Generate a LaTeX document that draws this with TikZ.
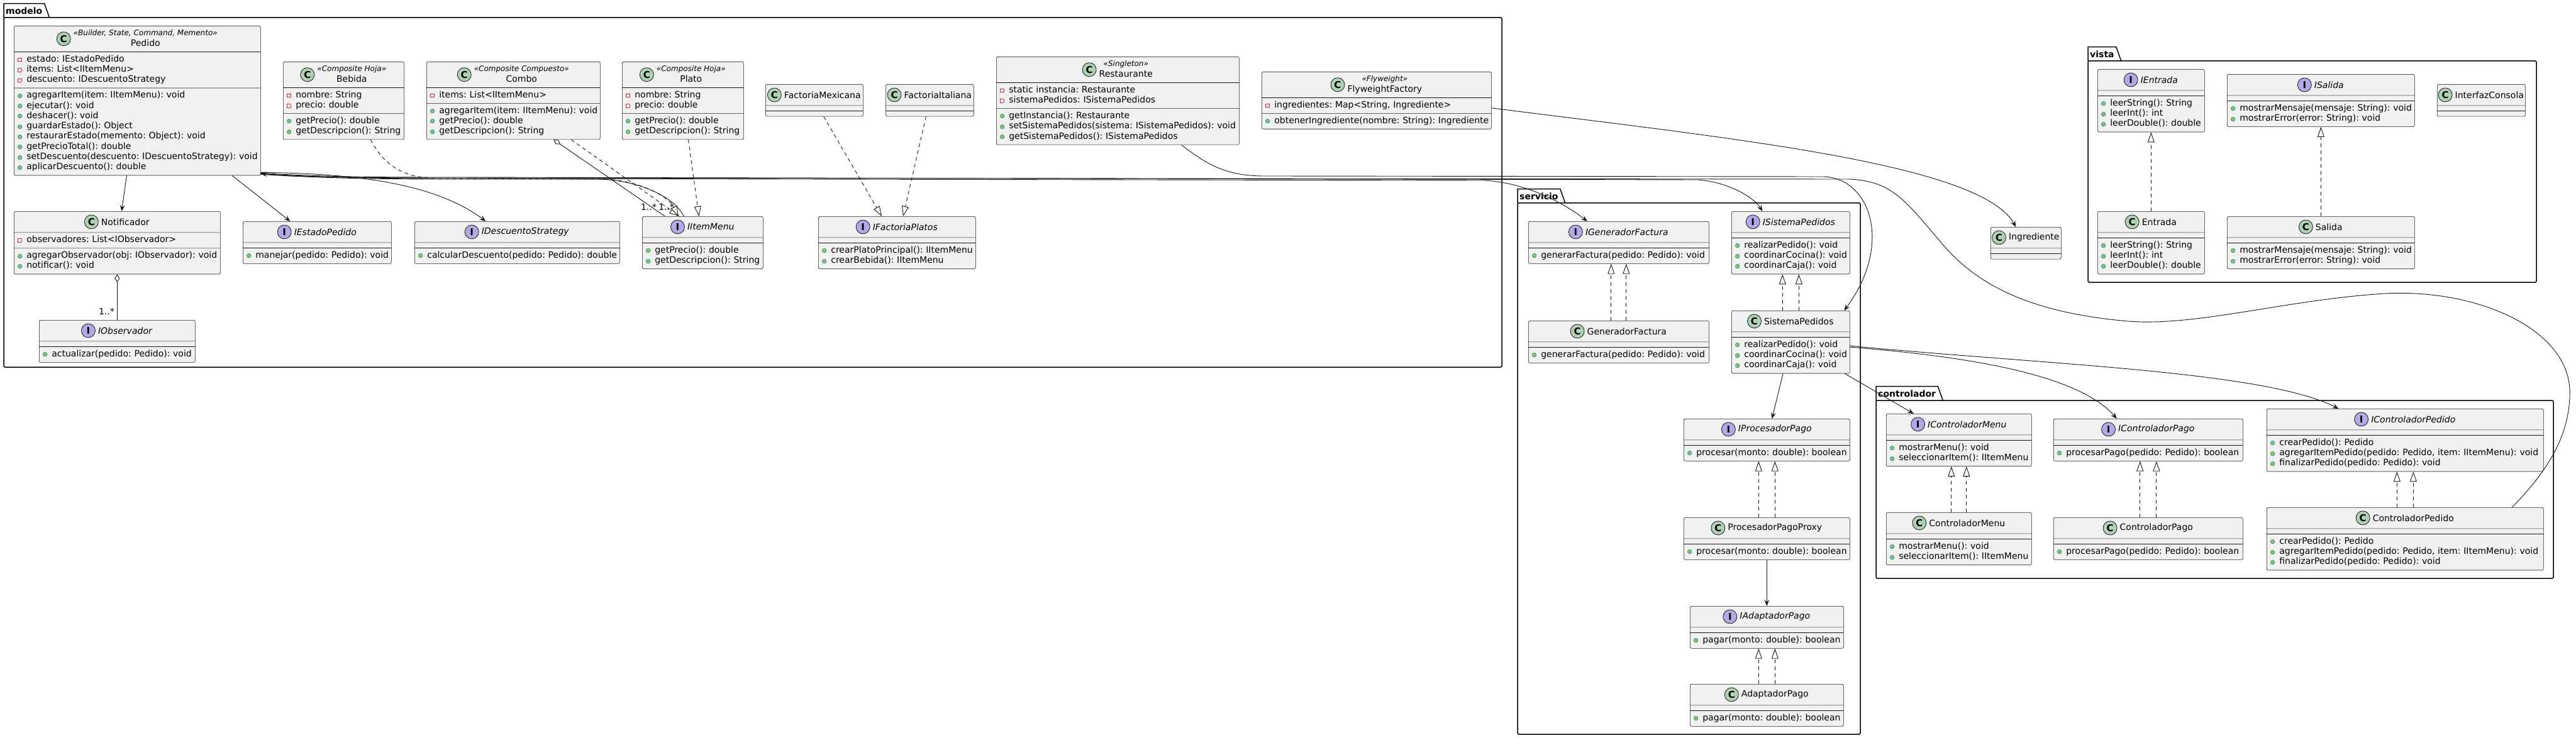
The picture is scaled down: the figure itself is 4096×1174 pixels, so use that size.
\documentclass[tikz,border=0pt]{standalone}
\usepackage{fontspec}
\setmainfont{DejaVu Sans}
\usepackage{tikz}
\usetikzlibrary{positioning,calc,arrows.meta,shapes.multipart}
\setlength{\parindent}{0pt}
\frenchspacing

\definecolor{boxfill}{HTML}{F1F1F1}
\definecolor{boxline}{HTML}{181818}
\definecolor{cfill}{HTML}{ADD1B2}
\definecolor{ifill}{HTML}{B4A7E5}
\definecolor{privred}{HTML}{C82930}
\definecolor{pubfill}{HTML}{84BE84}
\definecolor{publine}{HTML}{038048}

\tikzset{
  classbox/.style={rectangle split,rectangle split parts=3,draw=boxline,fill=boxfill,line width=0.6pt,rounded corners=2.5pt,inner xsep=4pt,inner ysep=4pt,font=\fontsize{14}{16.3}\selectfont},
  titletext/.style={inner sep=0pt},
  Cicon/.style={circle,draw=boxline,fill=cfill,line width=0.8pt,minimum size=22pt,inner sep=0pt,font=\bfseries\fontsize{15}{15}\selectfont},
  Iicon/.style={Cicon,fill=ifill},
  pkgline/.style={draw=black,line width=1.5pt},
  pkgtab/.style={font=\bfseries\fontsize{14}{16}\selectfont,inner xsep=3pt,inner ysep=0pt,minimum height=22pt},
  assoc/.style={draw=boxline,line width=0.9pt,-{Stealth[length=10pt,width=8pt,inset=4pt]}},
  realize/.style={draw=boxline,line width=0.9pt,dash pattern=on 6pt off 5pt,-{Triangle[length=16pt,width=11pt,fill=white]}},
  aggr/.style={draw=boxline,line width=0.9pt,{Diamond[length=13pt,width=8pt,fill=white]}-},
  link/.style={draw=boxline,line width=0.9pt},
  mult/.style={font=\fontsize{14}{14}\selectfont,inner sep=1pt}
}

% member rows: private field, public method
\newcommand\priv[1]{\strut\makebox[16pt][l]{\hspace{2pt}\raisebox{1pt}{\color{privred}\setlength\fboxsep{0pt}\setlength\fboxrule{0.8pt}\fbox{\rule{0pt}{4.4pt}\rule{4.4pt}{0pt}}}}\mbox{#1}\par}
\newcommand\pub[1]{\strut\makebox[16pt][l]{\hspace{1.5pt}\raisebox{0.5pt}{\fontsize{9}{9}\selectfont\makebox[0pt][l]{\color{pubfill}●}\color{publine}○}}\mbox{#1}\par}

% class header: optional stereotype over the name
\newcommand\titleone[1]{\mbox{#1}}
\newcommand\titletwo[2]{\begin{tabular}[c]{@{}c@{}}{\itshape\fontsize{12}{14}\selectfont «#1»}\\#2\end{tabular}}
\newcommand\titleblock[2]{{\fontsize{14}{16.3}\selectfont\if\relax\detokenize{#1}\relax\titleone{#2}\else\titletwo{#1}{#2}\fi}}

% id, north west corner, width, kind (C/I), stereotype, name, fields, methods
\newcommand\umlclass[8]{%
  \pgfmathsetlengthmacro\clstw{#3-8}%
  \node[classbox,text width=\clstw,anchor=north west] (#1) at (#2)
    {\makebox[\hsize]{\rule[-8.5pt]{0pt}{25pt}\hspace{26pt}\phantom{\titleblock{#5}{#6}}}%
     \nodepart{two}#7\nodepart{three}#8};
  \node[titletext] (#1-title) at ([xshift=13pt]$(#1.north)!0.5!(#1.text split)$) {\titleblock{#5}{#6}};
  \node[#4icon,left=4pt of #1-title] (#1-icon) {#4};
}

% id, north west, south east, label
\newcommand\umlpackage[4]{%
  \draw[pkgline,rounded corners=2pt] (#2) rectangle (#3);
  \node[pkgtab,anchor=south west] (#1) at (#2) {#4};
  \draw[pkgline] (#1.south west) -- (#1.north west) -- (#1.north east) -- ([xshift=8pt]#1.south east);
}

\begin{document}
\begin{tikzpicture}[x=1pt,y=-1pt]
  \useasboundingbox (0,0) rectangle (4096,1174);

  % packages
  \umlpackage{modelo}{6,28}{2388,584}{modelo}
  \umlpackage{servicio}{2413,323}{2958,1168}{servicio}
  \umlpackage{controlador}{2983,637}{4060,920}{controlador}
  \umlpackage{vista}{3320,97}{4033,449}{vista}

  % modelo
  \umlclass{pedido}{22,41}{392}{C}{Builder, State, Command, Memento}{Pedido}
    {\priv{estado: IEstadoPedido}\priv{items: List<IItemMenu>}\priv{descuento: IDescuentoStrategy}}
    {\pub{agregarItem(item: IItemMenu): void}\pub{ejecutar(): void}\pub{deshacer(): void}\pub{guardarEstado(): Object}\pub{restaurarEstado(memento: Object): void}\pub{getPrecioTotal(): double}\pub{setDescuento(descuento: IDescuentoStrategy): void}\pub{aplicarDescuento(): double}}
  \umlclass{bebida}{450,98}{192}{C}{Composite Hoja}{Bebida}
    {\priv{nombre: String}\priv{precio: double}}
    {\pub{getPrecio(): double}\pub{getDescripcion(): String}}
  \umlclass{combo}{678,98}{276}{C}{Composite Compuesto}{Combo}
    {\priv{items: List<IItemMenu>}}
    {\pub{agregarItem(item: IItemMenu): void}\pub{getPrecio(): double}\pub{getDescripcion(): String}}
  \umlclass{plato}{989,98}{193}{C}{Composite Hoja}{Plato}
    {\priv{nombre: String}\priv{precio: double}}
    {\pub{getPrecio(): double}\pub{getDescripcion(): String}}
  \umlclass{fmex}{1217,134}{155}{C}{}{FactoriaMexicana}{}{}
  \umlclass{fita}{1408,134}{140}{C}{}{FactoriaItaliana}{}{}
  \umlclass{rest}{1584,90}{386}{C}{Singleton}{Restaurante}
    {\priv{static instancia: Restaurante}\priv{sistemaPedidos: ISistemaPedidos}}
    {\pub{getInstancia(): Restaurante}\pub{setSistemaPedidos(sistema: ISistemaPedidos): void}\pub{getSistemaPedidos(): ISistemaPedidos}}
  \umlclass{flyw}{2006,114}{365}{C}{Flyweight}{FlyweightFactory}
    {\priv{ingredientes: Map<String, Ingrediente>}}
    {\pub{obtenerIngrediente(nombre: String): Ingrediente}}
  \umlclass{notif}{22,336}{328}{C}{}{Notificador}
    {\priv{observadores: List<IObservador>}}
    {\pub{agregarObservador(obj: IObservador): void}\pub{notificar(): void}}
  \umlclass{iestado}{386,352}{236}{I}{}{\textit{IEstadoPedido}}{}{\pub{manejar(pedido: Pedido): void}}
  \umlclass{idesc}{659,352}{326}{I}{}{\textit{IDescuentoStrategy}}{}{\pub{calcularDescuento(pedido: Pedido): double}}
  \umlclass{iitem}{1021,344}{192}{I}{}{\textit{IItemMenu}}{}{\pub{getPrecio(): double}\pub{getDescripcion(): String}}
  \umlclass{ifact}{1301,344}{250}{I}{}{\textit{IFactoriaPlatos}}{}{\pub{crearPlatoPrincipal(): IItemMenu}\pub{crearBebida(): IItemMenu}}
  \umlclass{iobs}{62,509}{248}{I}{}{\textit{IObservador}}{}{\pub{actualizar(pedido: Pedido): void}}
  \umlclass{ingred}{3165,361}{112}{C}{}{Ingrediente}{}{}

  % servicio
  \umlclass{igen}{2430,352}{287}{I}{}{\textit{IGeneradorFactura}}{}{\pub{generarFactura(pedido: Pedido): void}}
  \umlclass{gen}{2430,510}{287}{C}{}{GeneradorFactura}{}{\pub{generarFactura(pedido: Pedido): void}}
  \umlclass{isis}{2753,336}{188}{I}{}{\textit{ISistemaPedidos}}{}{\pub{realizarPedido(): void}\pub{coordinarCocina(): void}\pub{coordinarCaja(): void}}
  \umlclass{sis}{2753,494}{188}{C}{}{SistemaPedidos}{}{\pub{realizarPedido(): void}\pub{coordinarCocina(): void}\pub{coordinarCaja(): void}}
  \umlclass{iproc}{2677,666}{264}{I}{}{\textit{IProcesadorPago}}{}{\pub{procesar(monto: double): boolean}}
  \umlclass{ppp}{2677,823}{264}{C}{}{ProcesadorPagoProxy}{}{\pub{procesar(monto: double): boolean}}
  \umlclass{iadp}{2687,964}{244}{I}{}{\textit{IAdaptadorPago}}{}{\pub{pagar(monto: double): boolean}}
  \umlclass{adp}{2687,1088}{244}{C}{}{AdaptadorPago}{}{\pub{pagar(monto: double): boolean}}

  % controlador
  \umlclass{icm}{2999,658}{231}{I}{}{\textit{IControladorMenu}}{}{\pub{mostrarMenu(): void}\pub{seleccionarItem(): IItemMenu}}
  \umlclass{cm}{2999,815}{231}{C}{}{ControladorMenu}{}{\pub{mostrarMenu(): void}\pub{seleccionarItem(): IItemMenu}}
  \umlclass{icp}{3265,666}{301}{I}{}{\textit{IControladorPago}}{}{\pub{procesarPago(pedido: Pedido): boolean}}
  \umlclass{cp}{3265,823}{301}{C}{}{ControladorPago}{}{\pub{procesarPago(pedido: Pedido): boolean}}
  \umlclass{icped}{3604,650}{440}{I}{}{\textit{IControladorPedido}}{}{\pub{crearPedido(): Pedido}\pub{agregarItemPedido(pedido: Pedido, item: IItemMenu): void}\pub{finalizarPedido(pedido: Pedido): void}}
  \umlclass{cped}{3604,807}{440}{C}{}{ControladorPedido}{}{\pub{crearPedido(): Pedido}\pub{agregarItemPedido(pedido: Pedido, item: IItemMenu): void}\pub{finalizarPedido(pedido: Pedido): void}}

  % vista
  \umlclass{ient}{3335,110}{170}{I}{}{\textit{IEntrada}}{}{\pub{leerString(): String}\pub{leerInt(): int}\pub{leerDouble(): double}}
  \umlclass{isal}{3541,118}{298}{I}{}{\textit{ISalida}}{}{\pub{mostrarMensaje(mensaje: String): void}\pub{mostrarError(error: String): void}}
  \umlclass{icons}{3875,134}{140}{C}{}{InterfazConsola}{}{}
  \umlclass{ent}{3335,336}{170}{C}{}{Entrada}{}{\pub{leerString(): String}\pub{leerInt(): int}\pub{leerDouble(): double}}
  \umlclass{sal}{3541,344}{298}{C}{}{Salida}{}{\pub{mostrarMensaje(mensaje: String): void}\pub{mostrarError(error: String): void}}

  % relations inside modelo
  \draw[assoc] (pedido) -- (notif);
  \draw[assoc] (pedido) -- (iestado);
  \draw[assoc] ([yshift=5pt]pedido.south east) .. controls (560,276) and (690,290) .. ([xshift=-50pt]idesc.north);
  \draw[aggr] (notif.south) -- (iobs.north) node[mult,anchor=south east,xshift=-3pt,yshift=7pt] (iobs-mult) {1..*};
  \draw[link] ([yshift=2pt]pedido.south east) .. controls (500,283) and (600,285) .. (700,285) -- (950,285) .. controls (1010,286) and (1070,310) .. ([xshift=-30pt]iitem.north) node[mult,anchor=south east,xshift=-14pt,yshift=8pt] (iitem-mult1) {1..*};
  \draw[aggr] ([xshift=64pt]combo.south) -- ([xshift=-60pt]iitem.north) node[mult,anchor=south east,xshift=-12pt,yshift=8pt] (iitem-mult2) {1..*};
  \draw[realize] ([xshift=92pt]combo.south) -- ([xshift=-37pt]iitem.north);
  \draw[realize] ([xshift=43pt]bebida.south) .. controls (610,262) and (640,284) .. (700,284) -- (960,285) .. controls (1020,287) and (1065,315) .. ([xshift=-39pt]iitem.north);
  \draw[realize] (plato) -- (iitem);
  \draw[realize] (fmex) -- (ifact);
  \draw[realize] (fita) -- (ifact);

  % long relations
  \draw[assoc] ([xshift=101pt]rest.south) .. controls (1915,258) and (1945,280) .. (2010,280) -- (2900,281) .. controls (2975,284) and (3010,390) .. ([xshift=85pt]sis.north);
  \draw[assoc] ([yshift=-12pt]flyw.east) .. controls (2750,220) and (3150,260) .. ([xshift=-16pt]ingred.north);
  \draw[assoc] ([yshift=3pt]pedido.south east) .. controls (520,283) and (620,284) .. (720,284) -- (2360,287) .. controls (2420,290) and (2480,318) .. ([xshift=-50pt]igen.north);
  \draw[assoc] ([yshift=4pt]pedido.south east) .. controls (520,282) and (620,282) .. (720,282) -- (2700,286) .. controls (2750,290) and (2790,315) .. ([xshift=-45pt]isis.north);
  \draw[assoc] ([xshift=170pt]cped.north) .. controls (4040,760) and (4088,700) .. (4086,620) .. controls (4082,520) and (3930,455) .. (3777,468) .. controls (3620,480) and (3480,522) .. (3373,510) .. controls (3240,497) and (3150,460) .. (3090,390) .. controls (3030,320) and (3010,288) .. (2940,285) -- (720,283) .. controls (560,283) and (460,281) .. ([yshift=3pt]pedido.south east);

  % servicio and controlador
  \draw[assoc] (sis) -- (iproc);
  \draw[assoc] (sis) -- (icm);
  \draw[assoc] ([yshift=-8pt]sis.east) .. controls (3100,565) and (3300,590) .. ([xshift=-50pt]icp.north);
  \draw[assoc] ([yshift=-6pt]sis.east) .. controls (3250,580) and (3600,590) .. ([xshift=-106pt]icped.north);
  \draw[assoc] (ppp) -- (iadp);

  % realizations
  \draw[realize] ([xshift=-12pt]gen.north) -- ([xshift=-12pt]igen.south);
  \draw[realize] ([xshift=12pt]gen.north) -- ([xshift=12pt]igen.south);
  \draw[realize] ([xshift=-13pt]sis.north) -- ([xshift=-13pt]isis.south);
  \draw[realize] ([xshift=13pt]sis.north) -- ([xshift=13pt]isis.south);
  \draw[realize] ([xshift=-13pt]ppp.north) -- ([xshift=-13pt]iproc.south);
  \draw[realize] ([xshift=13pt]ppp.north) -- ([xshift=13pt]iproc.south);
  \draw[realize] ([xshift=-13pt]adp.north) -- ([xshift=-13pt]iadp.south);
  \draw[realize] ([xshift=13pt]adp.north) -- ([xshift=13pt]iadp.south);
  \draw[realize] ([xshift=-12pt]cm.north) -- ([xshift=-12pt]icm.south);
  \draw[realize] ([xshift=12pt]cm.north) -- ([xshift=12pt]icm.south);
  \draw[realize] ([xshift=-13pt]cp.north) -- ([xshift=-13pt]icp.south);
  \draw[realize] ([xshift=13pt]cp.north) -- ([xshift=13pt]icp.south);
  \draw[realize] ([xshift=-13pt]cped.north) -- ([xshift=-13pt]icped.south);
  \draw[realize] ([xshift=13pt]cped.north) -- ([xshift=13pt]icped.south);
  \draw[realize] (ent) -- (ient);
  \draw[realize] (sal) -- (isal);
\end{tikzpicture}
\end{document}
